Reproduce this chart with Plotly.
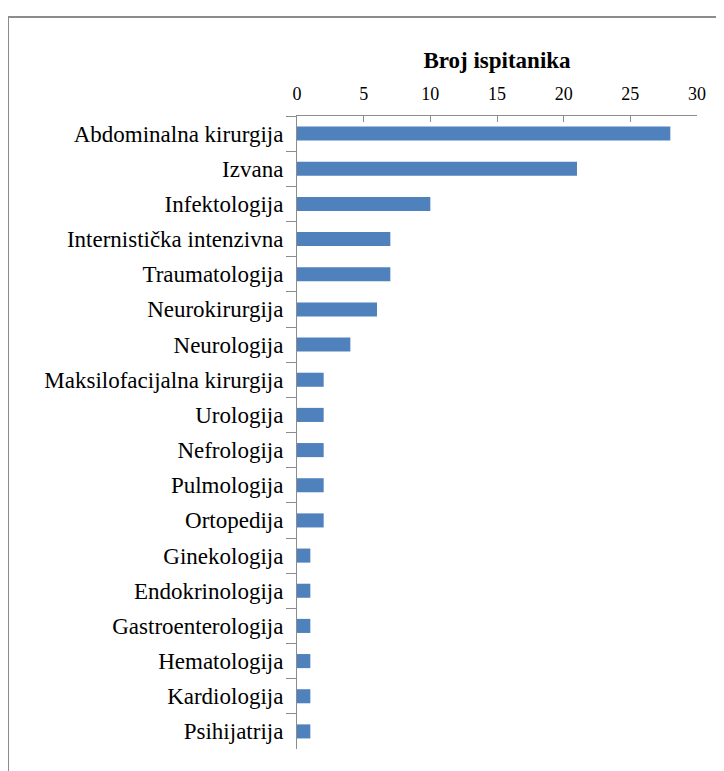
import plotly.graph_objects as go

categories = ["Abdominalna kirurgija", "Izvana", "Infektologija", "Internistička intenzivna",
              "Traumatologija", "Neurokirurgija", "Neurologija", "Maksilofacijalna kirurgija",
              "Urologija", "Nefrologija", "Pulmologija", "Ortopedija", "Ginekologija",
              "Endokrinologija", "Gastroenterologija", "Hematologija", "Kardiologija", "Psihijatrija"]
values = [28, 21, 10, 7, 7, 6, 4, 2, 2, 2, 2, 2, 1, 1, 1, 1, 1, 1]
x_ticks = [0, 5, 10, 15, 20, 25, 30]

fig = go.Figure(go.Bar(
    y=categories, x=values, orientation="h",
    marker=dict(color="#4F81BD", line=dict(width=0)),
    width=0.4,
))

# page body has an 8px offset; figure coordinates = screen - 8
W, H = 724, 771
OFF = 8
ml, mt = 297 - OFF, 116 - OFF
mr = W - (697 - OFF)
mb = H - (749 - OFF)
pw, ph = W - ml - mr, H - mt - mb

def px2paper(px, py):
    fx, fy = px - OFF, py - OFF
    return (fx - ml) / pw, 1 - (fy - mt) / ph

x0, y0 = px2paper(8, 17)
x1, _ = px2paper(800, 17)
_, y1 = px2paper(8, 820)

fig.update_layout(
    width=W, height=H,
    margin=dict(l=ml, r=mr, t=mt, b=mb),
    paper_bgcolor="white", plot_bgcolor="white",
    showlegend=False,
    font=dict(family="Liberation Serif", color="#000000"),
    xaxis=dict(
        side="top", range=[0, 30], tickvals=x_ticks, ticktext=[str(v) for v in x_ticks],
        showgrid=False, zeroline=False, showline=True, linecolor="#8C8C8C", linewidth=1,
        ticks="inside", ticklen=6, tickcolor="#8C8C8C", automargin=False,
        tickfont=dict(size=18, family="Liberation Serif"),
        ticklabelstandoff=8,
        title=dict(text="<b>Broj ispitanika</b>", font=dict(size=23, family="Liberation Serif"), standoff=8),
    ),
    yaxis=dict(
        autorange="reversed", showgrid=False, zeroline=False, showline=True,
        linecolor="#8C8C8C", linewidth=1, ticks="outside", tickson="boundaries",
        ticklen=10, tickcolor="#8C8C8C", automargin=False,
        tickfont=dict(size=23, family="Liberation Serif"),
        ticklabelstandoff=8,
    ),
    shapes=[
        dict(type="line", xref="paper", yref="paper", x0=x0, y0=y0, x1=x1, y1=y0,
             line=dict(color="#8C8C8C", width=2)),
        dict(type="line", xref="paper", yref="paper", x0=x0, y0=y0, x1=x0, y1=y1,
             line=dict(color="#8C8C8C", width=2)),
    ],
)

fig.write_html("out.html")
